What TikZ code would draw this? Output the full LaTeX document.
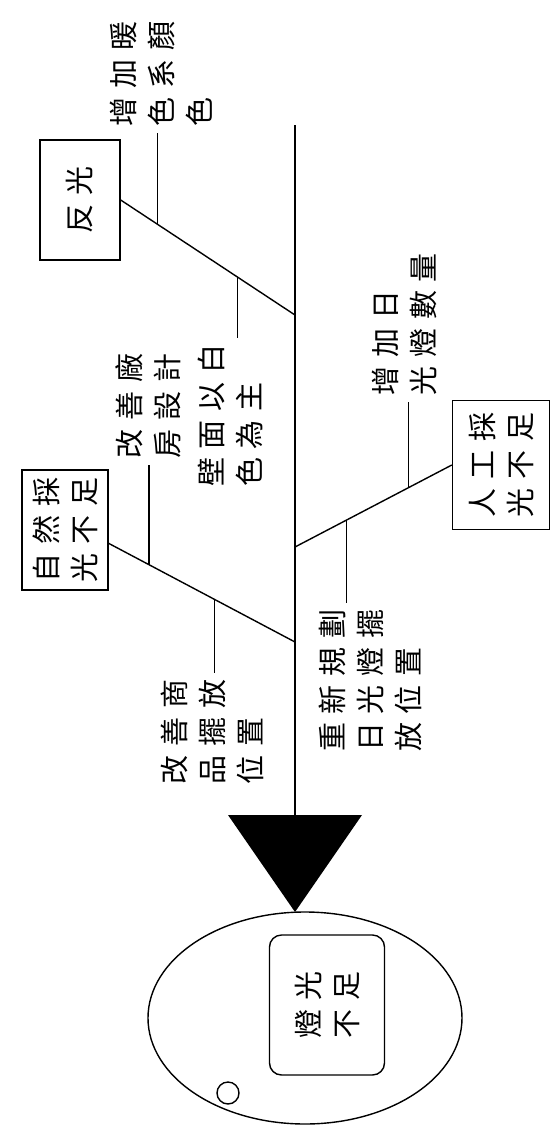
\documentclass[tikz,border=0pt]{standalone}
\usepackage{fontspec}
\newfontfamily\zh[LetterSpace=30]{Noto Sans CJK TC}
\usetikzlibrary{positioning, calc, shapes.geometric}

\begin{document}
\begin{tikzpicture}[
    x=0.5pt, y=-0.5pt, line width=0.7pt,
    font=\zh\fontsize{14.5pt}{19pt}\selectfont,
    kuang/.style={draw, rotate=90, align=center, inner sep=2pt},
    biaoqian/.style={rotate=90, align=left, inner sep=3pt}
  ]
    \useasboundingbox (0,0) rectangle (552,1126);

    % spine
    \coordinate (weiba) at (295,125);
    \coordinate (s1) at (295,315);
    \coordinate (s3) at (295,547);
    \coordinate (s2) at (295,642);
    \coordinate (jian) at (295,815);
    \draw (weiba) -- (jian);
    \fill (228,815) -- (362,815) -- (295,912) -- cycle;

    % head
    \node[draw, ellipse, minimum width=157pt, minimum height=106pt] (tou) at (305,1018) {};
    \node[kuang, rounded corners=6pt, minimum width=70pt, minimum height=57.5pt] (dengguang) at (327,1005) {燈光\\不足};
    \node[draw, circle, minimum size=11pt, inner sep=0pt] (yuan) at (228,1093) {};

    % causes
    \node[kuang, minimum width=60pt, minimum height=40pt] (fanguang) at (80,200) {反光};
    \node[kuang, minimum width=60pt, minimum height=43pt] (ziran) at (65,530) {自然採\\光不足};
    \node[kuang, minimum width=64.5pt, minimum height=48.5pt] (rengong) at (501,465) {人工採\\光不足};

    \coordinate (z0) at ($(ziran.south)!.22!(ziran.south west)$);
    \draw (fanguang.south) -- (s1);
    \draw (z0) -- (s2);
    \draw (rengong.north) -- (s3);

    \coordinate (gA) at ($(fanguang.south)!.21!(s1)$);
    \coordinate (gB) at ($(fanguang.south)!.67!(s1)$);
    \coordinate (gC) at ($(z0)!.216!(s2)$);
    \coordinate (gD) at ($(z0)!.568!(s2)$);
    \coordinate (gE) at ($(rengong.north)!.278!(s3)$);
    \coordinate (gF) at ($(rengong.north)!.67!(s3)$);

    % sub causes
    \node[biaoqian, anchor=west] (zA) at (161,133) {增加暖\\色系顏\\色};
    \node[biaoqian, anchor=east] (zB) at (230,338) {壁面以白\\色為主};
    \node[biaoqian, anchor=west] (zC) at (148,465) {改善廠\\房設計};
    \node[biaoqian, anchor=east] (zD) at (212,673) {改善商\\品擺放\\位置};
    \node[biaoqian, anchor=west] (zE) at (404,402) {增加日\\光燈數量};
    \node[biaoqian, anchor=east] (zF) at (370,603) {重新規劃\\日光燈擺\\放位置};

    \draw (gA) -- (gA |- zA.west);
    \draw (gB) -- (gB |- zB.east);
    \draw (gC) -- (gC |- zC.west);
    \draw (gD) -- (gD |- zD.east);
    \draw (gE) -- (gE |- zE.west);
    \draw (gF) -- (gF |- zF.east);
  \end{tikzpicture}
\end{document}
